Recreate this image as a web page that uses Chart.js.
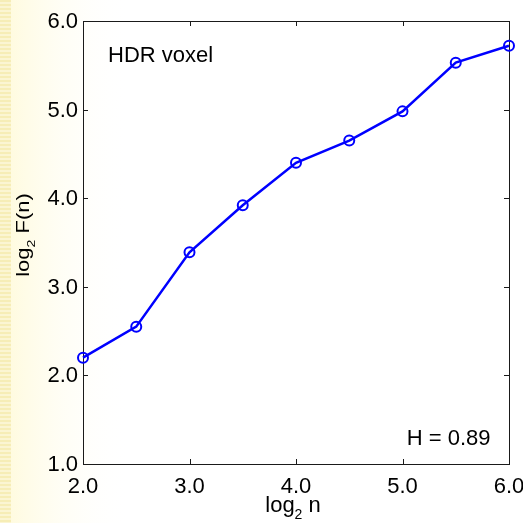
<!DOCTYPE html>
<html>
<head>
<meta charset="utf-8">
<script src="https://cdn.jsdelivr.net/npm/chart.js@4/dist/chart.umd.min.js"></script>
<style>
html,body{margin:0;padding:0;background:#fff;}
canvas{display:block;}
</style>
</head>
<body>
<canvas id="c" width="523" height="523"></canvas>
<script>
// Data
const log2n = [2.0, 2.5, 3.0, 3.5, 4.0, 4.5, 5.0, 5.5, 6.0];
const log2F = [2.20, 2.55, 3.39, 3.92, 4.40, 4.65, 4.98, 5.53, 5.72];
const xTickValues = [2, 3, 4, 5, 6];
const xTickLabels = ['2.0', '3.0', '4.0', '5.0', '6.0'];
const yTickValues = [1, 2, 3, 4, 5, 6];
const yTickLabels = ['1.0', '2.0', '3.0', '4.0', '5.0', '6.0'];
const panelLabel = 'HDR voxel';
const hurstLabel = 'H = 0.89';

const FONT = '"Liberation Sans", Arial, sans-serif';

const bgPlugin = {
  id: 'bg',
  beforeDraw(chart) {
    const ctx = chart.ctx;
    ctx.save();
    ctx.fillStyle = '#ffffff';
    ctx.fillRect(0, 0, chart.width, chart.height);
    const g = ctx.createLinearGradient(11, 0, 130, 0);
    g.addColorStop(0, '#fffbe0');
    g.addColorStop(1, 'rgba(255,255,255,0)');
    ctx.fillStyle = g;
    ctx.fillRect(11, 0, 120, chart.height);
    for (let y = 0; y < chart.height; y += 4) {
      ctx.fillStyle = '#f6edb6';
      ctx.fillRect(0, y, 11, 2);
      ctx.fillStyle = '#fbf5d2';
      ctx.fillRect(0, y + 2, 11, 2);
    }
    ctx.restore();
  }
};

function drawSubText(ctx, parts, x, y, align) {
  const big = 'normal 22px ' + FONT, small = 'normal 14px ' + FONT;
  let w = 0;
  parts.forEach(p => { ctx.font = p.sub ? small : big; w += ctx.measureText(p.t).width; });
  let cx = align === 'center' ? x - w / 2 : x;
  ctx.textAlign = 'left';
  ctx.textBaseline = 'alphabetic';
  parts.forEach(p => {
    ctx.font = p.sub ? small : big;
    ctx.fillText(p.t, cx, y + (p.sub ? 7 : 0));
    cx += ctx.measureText(p.t).width;
  });
}

const framePlugin = {
  id: 'frame',
  beforeDatasetsDraw(chart) {
    const ctx = chart.ctx;
    const a = chart.chartArea;
    const xs = chart.scales.x, ys = chart.scales.y;
    ctx.save();
    ctx.strokeStyle = '#1a1a1a';
    ctx.lineWidth = 1;
    ctx.strokeRect(Math.round(a.left) + 0.5, Math.round(a.top) + 0.5,
                   Math.round(a.right - a.left), Math.round(a.bottom - a.top));
    const tl = 5;
    ctx.beginPath();
    xTickValues.forEach(v => {
      const px = Math.round(xs.getPixelForValue(v)) + 0.5;
      ctx.moveTo(px, a.bottom); ctx.lineTo(px, a.bottom - tl);
      ctx.moveTo(px, a.top); ctx.lineTo(px, a.top + tl);
    });
    yTickValues.forEach(v => {
      const py = Math.round(ys.getPixelForValue(v)) + 0.5;
      ctx.moveTo(a.left, py); ctx.lineTo(a.left + tl, py);
      ctx.moveTo(a.right, py); ctx.lineTo(a.right - tl, py);
    });
    ctx.stroke();

    ctx.fillStyle = '#000';
    ctx.font = 'normal 22px ' + FONT;
    ctx.textAlign = 'right';
    ctx.textBaseline = 'middle';
    yTickValues.forEach((v, i) => {
      ctx.fillText(yTickLabels[i], a.left - 5, ys.getPixelForValue(v) + 1);
    });
    ctx.textAlign = 'center';
    ctx.textBaseline = 'alphabetic';
    xTickValues.forEach((v, i) => {
      ctx.fillText(xTickLabels[i], xs.getPixelForValue(v), a.bottom + 29);
    });

    // panel texts
    ctx.textAlign = 'left';
    ctx.font = 'normal 22px ' + FONT;
    ctx.fillText(panelLabel, xs.getPixelForValue(2.235), ys.getPixelForValue(5.54));
    ctx.fillText(hurstLabel, xs.getPixelForValue(5.04), ys.getPixelForValue(1.21));

    // x title
    drawSubText(ctx, [{t:'log'},{t:'2',sub:true},{t:' n'}], (a.left + a.right) / 2 - 3, 512, 'center');
    // y title
    ctx.save();
    ctx.translate(29, 235);
    ctx.rotate(-Math.PI / 2);
    ctx.scale(1, 0.8);
    drawSubText(ctx, [{t:'log'},{t:'2',sub:true},{t:' F(n)'}], 0, 0, 'center');
    ctx.restore();
    ctx.restore();
  }
};

const chart = new Chart(document.getElementById('c'), {
  type: 'line',
  data: {
    datasets: [{
      data: log2n.map((x, i) => ({x, y: log2F[i]})),
      borderColor: '#0000ff',
      borderWidth: 2.5,
      pointRadius: 5,
      pointBorderWidth: 2,
      pointBackgroundColor: 'rgba(0,0,0,0)',
      pointBorderColor: '#0000ff',
      tension: 0,
      clip: false
    }]
  },
  options: {
    responsive: false,
    devicePixelRatio: 1,
    animation: false,
    layout: { padding: { left: 83, top: 21, right: 14, bottom: 59 } },
    plugins: { legend: { display: false }, tooltip: { enabled: false } },
    scales: {
      x: { type: 'linear', min: 2, max: 6, display: false },
      y: { type: 'linear', min: 1, max: 6, display: false }
    }
  },
  plugins: [bgPlugin, framePlugin]
});
</script>
</body>
</html>
